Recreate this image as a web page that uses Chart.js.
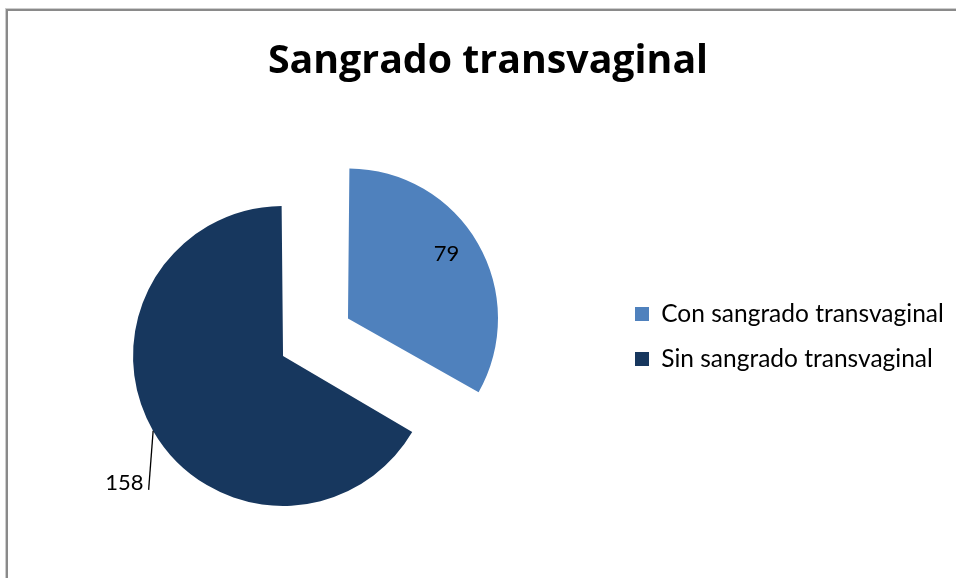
<!DOCTYPE html>
<html>
<head>
<meta charset="utf-8">
<script src="https://cdn.jsdelivr.net/npm/chart.js@4"></script>
<style>
html,body{margin:0;padding:0;background:#fff;}
#f1{position:absolute;left:5px;top:8px;width:1000px;height:1000px;border-left:1px solid #cdcdcd;border-top:1px solid #cdcdcd;}
#f2{position:absolute;left:0;top:0;width:1000px;height:1000px;border-left:2px solid #8a8a8a;border-top:2px solid #8a8a8a;}
#c{position:absolute;left:0;top:0;}
</style>
</head>
<body>
<div id="f1"><div id="f2"></div></div>
<canvas id="c" width="956" height="578"></canvas>
<script>
const titleText = 'Sangrado transvaginal';
const categories = ['Con sangrado transvaginal', 'Sin sangrado transvaginal'];
const values = [79, 158];
const colors = ['#4F81BD', '#17375E'];

const FONT = 'Lato';
const TITLE_FONT = '"Open Sans"';

function arcGeom(arc) {
  const off = (arc.options.offset || 0) / 4;
  const half = (arc.startAngle + arc.endAngle) / 2;
  const circ = arc.endAngle - arc.startAngle;
  const fix = 1 - Math.sin(Math.min(Math.PI, circ));
  return {
    cx: arc.x + Math.cos(half) * off,
    cy: arc.y + Math.sin(half) * off,
    r: arc.outerRadius + off * fix,
    half: half
  };
}

const placePlugin = {
  id: 'place',
  afterLayout(chart) {
    const t = chart.titleBlock;
    if (t) {
      const w = t.right - t.left;
      t.left = 488 - w / 2; t.right = t.left + w;
    }
    const lg = chart.legend;
    if (lg) {
      const pad = lg.options.labels.padding;
      lg.left = 635 - pad; lg.right = lg.left + 340; lg.width = 340;
      const h = lg.bottom - lg.top;
      lg.top = 336.5 - h / 2; lg.bottom = lg.top + h;
    }
  }
};

const labelPlugin = {
  id: 'pieLabels',
  afterDatasetsDraw(chart) {
    const ctx = chart.ctx;
    const meta = chart.getDatasetMeta(0);
    const fs = 22;
    ctx.save();
    ctx.font = fs + 'px ' + FONT;
    ctx.fillStyle = '#000';
    ctx.textBaseline = 'alphabetic';
    const g0 = arcGeom(meta.data[0]);
    const x0 = g0.cx + g0.r * 0.657, y0 = g0.cy - g0.r * 0.433;
    ctx.textAlign = 'center';
    ctx.fillText(String(values[0]), x0, y0 + fs * 0.36);
    const g1 = arcGeom(meta.data[1]);
    const sx = g1.cx + Math.cos(g1.half) * g1.r, sy = g1.cy + Math.sin(g1.half) * g1.r;
    const ex = sx - 4.5, ey = sy + 59;
    ctx.strokeStyle = '#000';
    ctx.lineWidth = 1.3;
    ctx.beginPath(); ctx.moveTo(sx, sy); ctx.lineTo(ex, ey); ctx.stroke();
    ctx.textAlign = 'right';
    ctx.fillText(String(values[1]), ex - 5, ey);
    ctx.restore();
  }
};

new Chart(document.getElementById('c'), {
  type: 'pie',
  data: {
    labels: categories,
    datasets: [{
      data: values,
      backgroundColor: colors,
      borderWidth: 0,
      offset: [264.6, 35.4]
    }]
  },
  options: {
    responsive: false,
    animation: false,
    radius: 141.15,
    layout: { padding: { left: 0, right: 74.6, top: 0, bottom: 0 } },
    plugins: {
      title: {
        display: true,
        text: titleText,
        color: '#000',
        font: { family: TITLE_FONT, size: 39.3, weight: 'bold' },
        padding: { top: 38.2, bottom: 39.6 }
      },
      legend: {
        display: true,
        position: 'right',
        maxWidth: 300,
        labels: {
          color: '#000',
          font: { family: FONT, size: 24.5 },
          boxWidth: 14,
          boxHeight: 14,
          padding: 20.5
        }
      },
      tooltip: { enabled: false }
    }
  },
  plugins: [placePlugin, labelPlugin]
});
</script>
</body>
</html>
